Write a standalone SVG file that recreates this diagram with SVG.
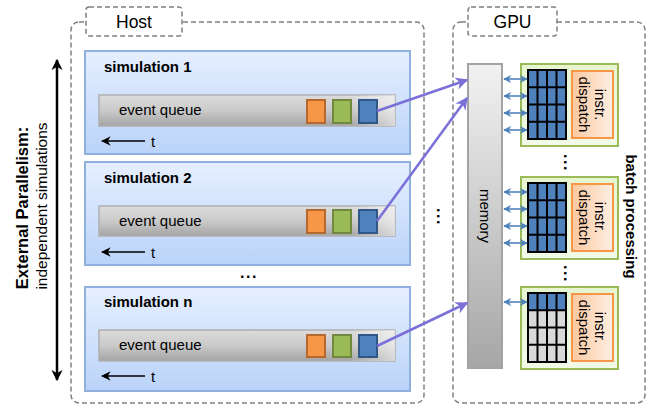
<svg xmlns="http://www.w3.org/2000/svg" width="654" height="410" viewBox="0 0 654 410">
<defs>
  <linearGradient id="gSim" x1="0" y1="0" x2="0" y2="1">
    <stop offset="0" stop-color="#e6efff"/>
    <stop offset="1" stop-color="#bad3f9"/>
  </linearGradient>
  <linearGradient id="gQueue" x1="0" y1="0" x2="0" y2="1">
    <stop offset="0" stop-color="#dcdcdc"/>
    <stop offset="0.5" stop-color="#cacaca"/>
    <stop offset="1" stop-color="#a4a4a4"/>
  </linearGradient>
  <linearGradient id="gQueueH" x1="0" y1="0" x2="1" y2="0">
    <stop offset="0.85" stop-color="#ffffff" stop-opacity="0"/>
    <stop offset="1" stop-color="#ffffff" stop-opacity="0.55"/>
  </linearGradient>
  <linearGradient id="gMem" x1="0" y1="0" x2="0" y2="1">
    <stop offset="0" stop-color="#f2f2f2"/>
    <stop offset="1" stop-color="#a6a6a6"/>
  </linearGradient>
  <linearGradient id="gSM" x1="0" y1="0" x2="0" y2="1">
    <stop offset="0" stop-color="#e6f5d0"/>
    <stop offset="1" stop-color="#f2fae8"/>
  </linearGradient>
  <linearGradient id="gDisp" x1="0" y1="0" x2="1" y2="0">
    <stop offset="0" stop-color="#fbc9a0"/>
    <stop offset="1" stop-color="#fdeee2"/>
  </linearGradient>
  <marker id="mPurple" viewBox="0 0 10 10" refX="9" refY="5" markerWidth="5" markerHeight="5" orient="auto-start-reverse" markerUnits="strokeWidth">
    <path d="M0,0 L10,5 L0,10 L3,5 z" fill="#7b70d8"/>
  </marker>
  <marker id="mBlue" viewBox="0 0 10 10" refX="9" refY="5" markerWidth="5" markerHeight="5" orient="auto-start-reverse" markerUnits="strokeWidth">
    <path d="M0,0 L10,5 L0,10 L3,5 z" fill="#4f81bd"/>
  </marker>
  <marker id="mBlack" viewBox="0 0 10 10" refX="9" refY="5" markerWidth="4.5" markerHeight="4.5" orient="auto-start-reverse" markerUnits="strokeWidth">
    <path d="M0,0 L10,5 L0,10 L3,5 z" fill="#000"/>
  </marker>
  <marker id="mSmall" viewBox="0 0 10 10" refX="9" refY="5" markerWidth="6" markerHeight="6" orient="auto" markerUnits="strokeWidth">
    <path d="M0,0 L10,5 L0,10 L3,5 z" fill="#000"/>
  </marker>
</defs>
<style>
  .dash { fill: none; stroke: #7f7f7f; stroke-width: 1.5; stroke-dasharray: 5 3; }
  .tab { fill: #ffffff; stroke: #7f7f7f; stroke-width: 1.5; stroke-dasharray: 5 3; }
  .tabtxt { font-family: "Liberation Sans", Arial, sans-serif; font-size: 17.5px; fill: #000; text-anchor: middle; }
  .sim { fill: url(#gSim); stroke: #90b0dd; stroke-width: 2; }
  .queue { fill: url(#gQueue); stroke: #b0b0b0; stroke-width: 1.5; }
  .queueH { fill: url(#gQueueH); }
  .title { font-family: "Liberation Sans", Arial, sans-serif; font-size: 15px; font-weight: bold; fill: #000; }
  .txt { font-family: "Liberation Sans", Arial, sans-serif; font-size: 15px; fill: #000; }
  .or { fill: #f79646; stroke: #b6692f; stroke-width: 2; }
  .gr { fill: #9bbb59; stroke: #71893f; stroke-width: 2; }
  .bl { fill: #4f81bd; stroke: #2f5888; stroke-width: 2; }
  .tarrow { stroke: #000; stroke-width: 1.6; fill: none; marker-end: url(#mSmall); }
  .purple { stroke: #7b70d8; stroke-width: 2.5; fill: none; marker-end: url(#mPurple); }
  .darr { stroke: #4f81bd; stroke-width: 1.6; fill: none; marker-start: url(#mBlue); marker-end: url(#mBlue); }
  .sm { fill: url(#gSM); stroke: #9bbb59; stroke-width: 2; }
  .disp { fill: url(#gDisp); stroke: #f79646; stroke-width: 2; }
  .grid { fill: none; stroke: #000; stroke-width: 2; }
  .dots { font-family: "Liberation Sans", Arial, sans-serif; font-size: 16px; font-weight: bold; letter-spacing: 1.5px; fill: #000; }
</style>

<!-- Left label and arrow -->
<g id="external">
  <line x1="57" y1="380" x2="57" y2="60" stroke="#000" stroke-width="2.5" marker-start="url(#mBlack)" marker-end="url(#mBlack)"/>
  <text transform="translate(28,208) rotate(-90)" text-anchor="middle" font-family="Liberation Sans, Arial, sans-serif" font-size="16.5" font-weight="bold">External Parallelism:</text>
  <text transform="translate(47,206) rotate(-90)" text-anchor="middle" font-family="Liberation Sans, Arial, sans-serif" font-size="15.5">independent simulations</text>
</g>

<!-- Host container -->
<g id="host">
  <rect x="71" y="22" width="353" height="381" rx="8" class="dash"/>
  <rect x="86" y="7" width="96" height="29" rx="3" class="tab"/>
  <text x="134" y="28" class="tabtxt">Host</text>
</g>

<!-- GPU container -->
<g id="gpu">
  <rect x="453" y="22" width="192" height="381" rx="8" class="dash"/>
  <rect x="468" y="7" width="89" height="29" rx="3" class="tab"/>
  <text x="512.5" y="28" class="tabtxt">GPU</text>
  <text transform="translate(626,216.5) rotate(90)" text-anchor="middle" class="title">batch processing</text>
</g>

<!-- Simulation 1 -->
<g id="sim1">
  <rect x="85" y="51" width="325" height="103" class="sim"/>
  <text x="104" y="72" class="title">simulation 1</text>
  <rect x="99" y="95" width="296" height="31" class="queue"/>
  <rect x="99" y="95" width="296" height="31" class="queueH"/>
  <text x="119" y="115" class="txt">event queue</text>
  <rect x="307" y="100" width="18" height="23" class="or"/>
  <rect x="333" y="100" width="18" height="23" class="gr"/>
  <rect x="359" y="100" width="18" height="23" class="bl"/>
  <line x1="145" y1="141" x2="102" y2="141" class="tarrow"/>
  <text x="151" y="147" class="txt">t</text>
</g>

<!-- Simulation 2 -->
<g id="sim2">
  <rect x="85" y="162" width="325" height="103" class="sim"/>
  <text x="104" y="183" class="title">simulation 2</text>
  <rect x="99" y="206" width="296" height="30" class="queue"/>
  <rect x="99" y="206" width="296" height="30" class="queueH"/>
  <text x="119" y="226" class="txt">event queue</text>
  <rect x="307" y="210" width="18" height="23" class="or"/>
  <rect x="333" y="210" width="18" height="23" class="gr"/>
  <rect x="359" y="210" width="18" height="23" class="bl"/>
  <line x1="145" y1="252" x2="102" y2="252" class="tarrow"/>
  <text x="151" y="258" class="txt">t</text>
</g>

<text x="240" y="278" class="dots">...</text>

<!-- Simulation n -->
<g id="simn">
  <rect x="85" y="287" width="325" height="104" class="sim"/>
  <text x="104" y="307" class="title">simulation n</text>
  <rect x="99" y="330" width="296" height="31" class="queue"/>
  <rect x="99" y="330" width="296" height="31" class="queueH"/>
  <text x="119" y="350" class="txt">event queue</text>
  <rect x="307" y="335" width="18" height="22" class="or"/>
  <rect x="333" y="335" width="18" height="22" class="gr"/>
  <rect x="359" y="335" width="18" height="22" class="bl"/>
  <line x1="145" y1="376" x2="102" y2="376" class="tarrow"/>
  <text x="151" y="382" class="txt">t</text>
</g>

<text transform="translate(437,208) rotate(90)" class="dots">...</text>

<!-- Memory -->
<g id="memory">
  <rect x="468" y="64" width="34" height="304" fill="url(#gMem)" stroke="#a3a3a3" stroke-width="2"/>
  <text transform="translate(485,216) rotate(90)" text-anchor="middle" dominant-baseline="central" class="txt">memory</text>
</g>

<!-- SM block 1 -->
<g id="sm1">
  <rect x="521" y="64" width="97" height="82" class="sm"/>
  <rect x="528" y="70" width="38" height="69" fill="#4f81bd"/>
  <path class="grid" d="M528,70 H566 V139 H528 Z M537.5,70 V139 M547,70 V139 M556.5,70 V139 M528,87.25 H566 M528,104.5 H566 M528,121.75 H566"/>
  <rect x="572" y="71" width="41" height="67" class="disp"/>
  <text transform="translate(592,104.5) rotate(90)" text-anchor="middle" class="txt"><tspan x="0" y="-3">instr.</tspan><tspan x="0" y="13">dispatch</tspan></text>
</g>

<text transform="translate(564,154) rotate(90)" class="dots">...</text>

<!-- SM block 2 -->
<g id="sm2">
  <rect x="521" y="177" width="97" height="82" class="sm"/>
  <rect x="528" y="183" width="38" height="69" fill="#4f81bd"/>
  <path class="grid" d="M528,183 H566 V252 H528 Z M537.5,183 V252 M547,183 V252 M556.5,183 V252 M528,200.25 H566 M528,217.5 H566 M528,234.75 H566"/>
  <rect x="572" y="184" width="41" height="67" class="disp"/>
  <text transform="translate(592,217.5) rotate(90)" text-anchor="middle" class="txt"><tspan x="0" y="-3">instr.</tspan><tspan x="0" y="13">dispatch</tspan></text>
</g>

<text transform="translate(564,265) rotate(90)" class="dots">...</text>

<!-- SM block 3 -->
<g id="sm3">
  <rect x="521" y="287" width="97" height="82" class="sm"/>
  <rect x="528" y="293" width="38" height="69" fill="#d9d9d9"/>
  <rect x="528" y="293" width="38" height="17.25" fill="#4f81bd"/>
  <path class="grid" d="M528,293 H566 V362 H528 Z M537.5,293 V362 M547,293 V362 M556.5,293 V362 M528,310.25 H566 M528,327.5 H566 M528,344.75 H566"/>
  <rect x="572" y="294" width="41" height="67" class="disp"/>
  <text transform="translate(592,327.5) rotate(90)" text-anchor="middle" class="txt"><tspan x="0" y="-3">instr.</tspan><tspan x="0" y="13">dispatch</tspan></text>
</g>

<!-- Connectors -->
<g id="connectors">
  <line x1="377" y1="111" x2="467" y2="80" class="purple"/>
  <line x1="377" y1="221" x2="467" y2="98" class="purple"/>
  <line x1="377" y1="346" x2="467" y2="303" class="purple"/>
  <line x1="504" y1="79" x2="527" y2="79" class="darr"/>
  <line x1="504" y1="96" x2="527" y2="96" class="darr"/>
  <line x1="504" y1="113" x2="527" y2="113" class="darr"/>
  <line x1="504" y1="130" x2="527" y2="130" class="darr"/>
  <line x1="504" y1="192" x2="527" y2="192" class="darr"/>
  <line x1="504" y1="209" x2="527" y2="209" class="darr"/>
  <line x1="504" y1="226" x2="527" y2="226" class="darr"/>
  <line x1="504" y1="243" x2="527" y2="243" class="darr"/>
  <line x1="504" y1="302" x2="527" y2="302" class="darr"/>
</g>
</svg>
